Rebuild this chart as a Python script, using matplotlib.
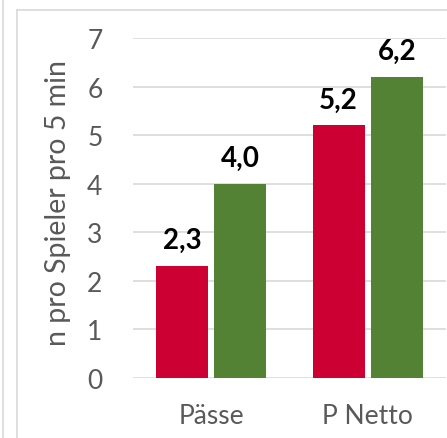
import matplotlib
matplotlib.use("Agg")
import matplotlib.pyplot as plt
from matplotlib.lines import Line2D
import numpy as np

categories = ["Pässe", "P Netto"]
series_red = [2.3, 5.2]
series_green = [4.0, 6.2]
yticks = [0, 1, 2, 3, 4, 5, 6, 7]
ylabel = "n pro Spieler pro 5 min"

plt.rcParams['font.family'] = ['Lato', 'DejaVu Sans']

fig = plt.figure(figsize=(4.47, 4.39), dpi=100)
W, H = 447, 439
ax = fig.add_axes([133 / W, 60 / H, (446 - 133) / W, (379 - 39) / H])

x = np.arange(len(categories))
w = 0.333
off = 0.186
red = "#CC0033"
green = "#548235"
b1 = ax.bar(x - off, series_red, w, color=red, zorder=3)
b2 = ax.bar(x + off, series_green, w, color=green, zorder=3)

for bars, vals in ((b1, series_red), (b2, series_green)):
    for rect, v in zip(bars, vals):
        ax.annotate(f"{v:.1f}".replace(".", ","),
                    (rect.get_x() + rect.get_width() / 2, v),
                    xytext=(0, 26), textcoords="offset pixels",
                    ha="center", va="center", fontsize=20, fontweight="bold",
                    color="#000000")

ax.set_xlim(-0.5, 1.5)
ax.set_ylim(0, 7)
ax.set_yticks(yticks)
ax.set_xticks(x)
ax.set_xticklabels(categories)
ax.yaxis.grid(True, color="#D9D9D9", linewidth=1.2, zorder=0)
ax.set_axisbelow(True)
for s in ax.spines.values():
    s.set_visible(False)
ax.tick_params(axis="both", length=0, labelsize=19, labelcolor="#595959")
ax.tick_params(axis="y", pad=22)
ax.tick_params(axis="x", pad=18)
ax.set_ylabel(ylabel, fontsize=20.5, color="#595959")
ax.yaxis.set_label_coords(-(133 - 71) / (446 - 133), 0.518)

# frame lines from the surrounding chart area
fig.add_artist(Line2D([3 / W, 3 / W], [0, 1], color="#D9D9D9", linewidth=1.2))
fig.add_artist(Line2D([17 / W, 17 / W], [0, 1 - 11 / H], color="#D9D9D9", linewidth=1.2))
fig.add_artist(Line2D([17 / W, 1], [1 - 11 / H, 1 - 11 / H], color="#D9D9D9", linewidth=1.2))

fig.savefig("out.png", dpi=100, facecolor="white")
